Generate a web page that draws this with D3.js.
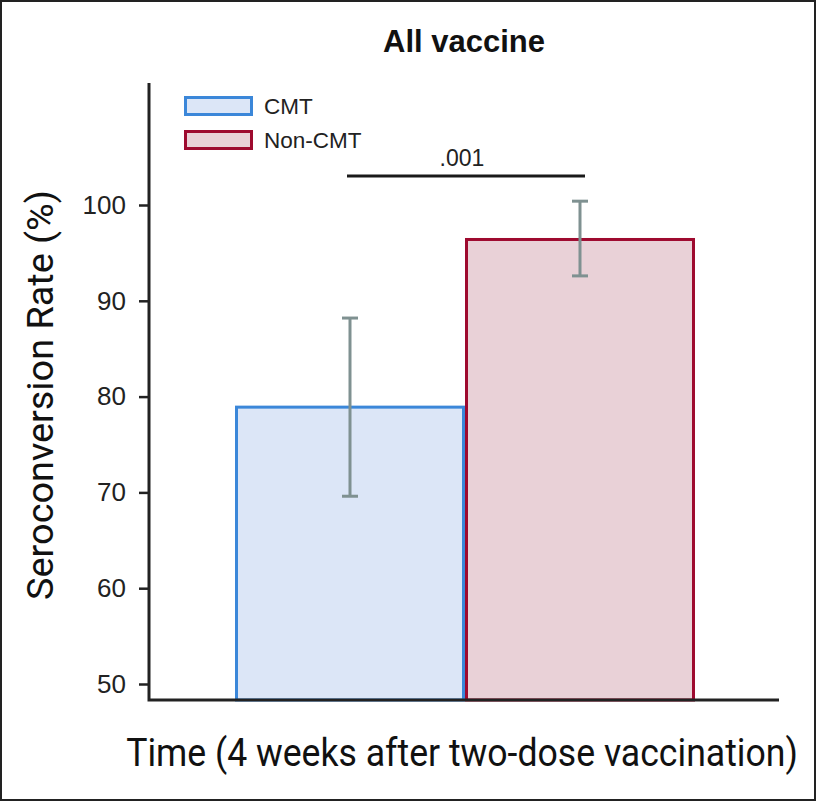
<!DOCTYPE html>
<html>
<head>
<meta charset="utf-8">
<script src="https://cdn.jsdelivr.net/npm/d3@7"></script>
<style>
  body { margin: 0; background: #fff; }
  svg { display: block; }
</style>
</head>
<body>
<div class="root"></div>
<script>
// chart values
var groups = ['CMT', 'Non-CMT'];
var rates = [78.9, 96.4];
var errLow = [69.6, 92.6];
var errHigh = [88.2, 100.4];
var yTicks = [50, 60, 70, 80, 90, 100];
var pLabel = '.001';

var fills = ['#dce6f7', '#e9d1d7'];
var strokes = ['#3b87d9', '#9e0a2f'];

var w = 816, h = 801;

var svg = d3.select('.root')
  .append('svg')
  .attr('width', w)
  .attr('height', h);

// frame
svg.append('rect')
  .attr('x', 1).attr('y', 1)
  .attr('width', w - 2).attr('height', h - 2)
  .attr('fill', '#fff')
  .attr('stroke', '#222')
  .attr('stroke-width', 2);

var y = d3.scaleLinear()
  .domain([50, 100])
  .range([684, 205]);

var x = d3.scaleBand()
  .domain(groups)
  .range([235, 695])
  .paddingInner(0)
  .paddingOuter(0);

var axisBottom = 700, axisTop = 83, axisLeft = 149, axisRight = 779;

// bars
svg.append('g')
  .selectAll('rect')
  .data(groups)
  .enter().append('rect')
    .attr('x', function(d) { return x(d) + 1.5; })
    .attr('y', function(d, i) { return y(rates[i]); })
    .attr('width', x.bandwidth() - 3)
    .attr('height', function(d, i) { return axisBottom - y(rates[i]); })
    .attr('fill', function(d, i) { return fills[i]; })
    .attr('stroke', function(d, i) { return strokes[i]; })
    .attr('stroke-width', 3);

// error bars
var eb = svg.append('g')
  .attr('stroke', '#7f9191')
  .attr('stroke-width', 3);

var errX = [350, 580];
groups.forEach(function(d, i) {
  eb.append('line')
    .attr('x1', errX[i]).attr('x2', errX[i])
    .attr('y1', y(errLow[i])).attr('y2', y(errHigh[i]));
  eb.append('line')
    .attr('x1', errX[i] - 8).attr('x2', errX[i] + 8)
    .attr('y1', y(errLow[i])).attr('y2', y(errLow[i]));
  eb.append('line')
    .attr('x1', errX[i] - 8).attr('x2', errX[i] + 8)
    .attr('y1', y(errHigh[i])).attr('y2', y(errHigh[i]));
});

// y axis
var yAxis = svg.append('g')
  .attr('transform', 'translate(' + axisLeft + ',0)')
  .call(d3.axisLeft(y).tickValues(yTicks).tickSize(10).tickPadding(13));
yAxis.select('.domain').remove();
yAxis.selectAll('.tick line').attr('stroke', '#222').attr('stroke-width', 2.5);
yAxis.selectAll('.tick text')
  .attr('fill', '#222')
  .style('font-family', 'Liberation Sans, Arial, sans-serif')
  .style('font-size', '26px');

svg.append('path')
  .attr('d', 'M' + axisLeft + ',' + axisTop + 'V' + axisBottom + 'H' + axisRight)
  .attr('fill', 'none')
  .attr('stroke', '#222')
  .attr('stroke-width', 3);

// significance bracket
svg.append('line')
  .attr('x1', 347).attr('x2', 585)
  .attr('y1', 176).attr('y2', 176)
  .attr('stroke', '#1a1a1a')
  .attr('stroke-width', 3);
svg.append('text')
  .attr('x', 462).attr('y', 166)
  .attr('text-anchor', 'middle')
  .style('font-family', 'Liberation Sans, Arial, sans-serif')
  .style('font-size', '23px')
  .attr('fill', '#222')
  .text(pLabel);

// legend
var legend = svg.append('g');
groups.forEach(function(d, i) {
  legend.append('rect')
    .attr('x', 185.5).attr('y', 97.5 + i * 34)
    .attr('width', 66).attr('height', 17)
    .attr('fill', fills[i])
    .attr('stroke', strokes[i])
    .attr('stroke-width', 3);
  legend.append('text')
    .attr('x', 264).attr('y', 114 + i * 34)
    .style('font-family', 'Liberation Sans, Arial, sans-serif')
    .style('font-size', '22.5px')
    .attr('fill', '#222')
    .text(d);
});

// condensed text: squeeze horizontally to a target width
function squeezed(cx, cy, rot, size, weight, target, str) {
  var g = svg.append('g')
    .attr('transform', 'translate(' + cx + ',' + cy + ') rotate(' + rot + ')');
  var t = g.append('text')
    .attr('text-anchor', 'middle')
    .style('font-family', 'Roboto, Liberation Sans, sans-serif')
    .style('font-size', size + 'px')
    .style('font-weight', weight)
    .attr('fill', '#111')
    .text(str);
  var len = t.node().getComputedTextLength();
  t.attr('transform', 'scale(' + (target / len) + ',1)');
  return t;
}

// title
svg.append('text')
  .attr('x', 464).attr('y', 52)
  .attr('text-anchor', 'middle')
  .style('font-family', 'Liberation Sans, Arial, sans-serif')
  .style('font-size', '31px')
  .style('font-weight', 'bold')
  .attr('fill', '#111')
  .text('All vaccine');

// axis labels
squeezed(53, 395, -90, 37, 'normal', 410, 'Seroconversion Rate (%)');
squeezed(462, 766, 0, 39, 'normal', 672, 'Time (4 weeks after two-dose vaccination)');
</script>
</body>
</html>
